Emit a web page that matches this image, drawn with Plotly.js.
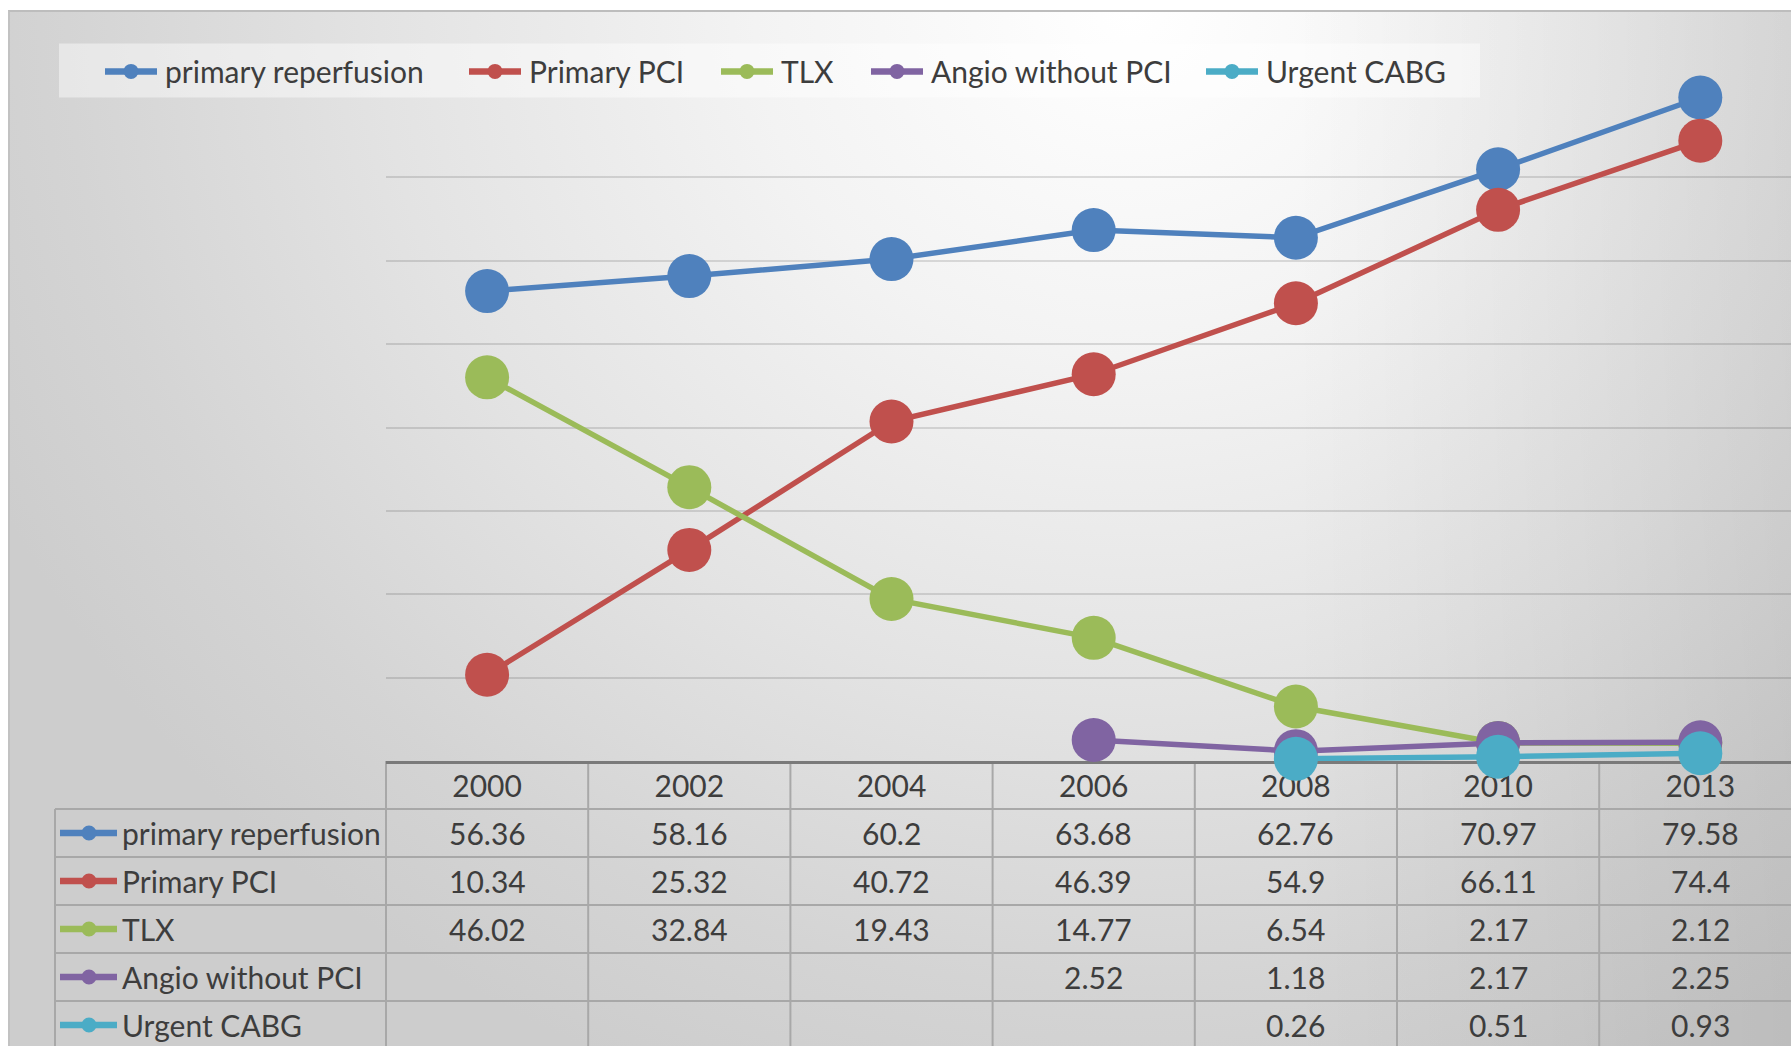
<!DOCTYPE html>
<html>
<head>
<meta charset="utf-8">
<script src="https://cdn.plot.ly/plotly-3.0.1.min.js"></script>
<style>
html, body { margin:0; padding:0; background:#ffffff; overflow:hidden; width:1791px; height:1046px; }
#bg { position:absolute; left:8px; top:10px; right:0; bottom:0;
  border-top:2px solid #bdbdbd; border-left:2px solid #c2c2c2;
  background:
    linear-gradient(to right, rgba(0,0,0,0) 72%, rgba(0,0,0,0.08) 100%),
    radial-gradient(ellipse 1250px 1150px at 1120px 0px, #ffffff 0%, #f3f3f3 30%, #e3e3e3 60%, #d4d4d4 85%, #cdcdcd 100%);
}
#chart { position:absolute; left:0; top:0; width:1791px; height:1046px; }
</style>
</head>
<body>
<div id="bg"></div>
<div id="chart"></div>
<script>
// ---------------- data ----------------
const years = ['2000', '2002', '2004', '2006', '2008', '2010', '2013'];
const seriesNames = ['primary reperfusion', 'Primary PCI', 'TLX', 'Angio without PCI', 'Urgent CABG'];
const primaryReperfusion = [56.36, 58.16, 60.2, 63.68, 62.76, 70.97, 79.58];
const primaryPCI         = [10.34, 25.32, 40.72, 46.39, 54.9, 66.11, 74.4];
const tlx                = [46.02, 32.84, 19.43, 14.77, 6.54, 2.17, 2.12];
const angioWithoutPCI    = [null, null, null, 2.52, 1.18, 2.17, 2.25];
const urgentCABG         = [null, null, null, null, 0.26, 0.51, 0.93];
const gridValues = [10, 20, 30, 40, 50, 60, 70, 80];

// ---------------- style / layout ----------------
const seriesValues = [primaryReperfusion, primaryPCI, tlx, angioWithoutPCI, urgentCABG];
const colors = ['#4f81bd', '#c0504d', '#9bbb59', '#8064a2', '#4bacc6'];
const FONT = 'Lato, "Open Sans", sans-serif';
const TEXT_COLOR = '#3d3d3d';
const FS = 30;

const W = 1791, H = 1046;
const plotLeft = 386, plotTop = 93.6, plotBottom = 760.7;
const colW = 202.2;
const rowH = 48;
const plotW = W - plotLeft, plotH = plotBottom - plotTop;
const px2x = p => (p - plotLeft) / plotW;
const py2y = p => (plotBottom - p) / plotH;
const lineColor = '#a8a8a8';

const traces = seriesNames.map((name, i) => ({
  type: 'scatter',
  mode: 'lines+markers',
  name: name,
  x: years,
  y: seriesValues[i],
  line: { color: colors[i], width: 5.5 },
  marker: { color: colors[i], size: 44 },
  cliponaxis: false,
  hoverinfo: 'skip',
  showlegend: false
}));

const shapes = [];
const annotations = [];

// legend background box
shapes.push({ type: 'rect', xref: 'paper', yref: 'paper', layer: 'below',
  x0: px2x(59), x1: px2x(1480), y0: py2y(97), y1: py2y(43),
  fillcolor: 'rgba(255,255,255,0.45)', line: { width: 0 } });

function symbol(x0, x1, cx, cy, color) {
  shapes.push({ type: 'line', xref: 'paper', yref: 'paper',
    x0: px2x(x0), x1: px2x(x1), y0: py2y(cy), y1: py2y(cy),
    line: { color: color, width: 6.5 } });
  const r = 7.5;
  shapes.push({ type: 'circle', xref: 'paper', yref: 'paper',
    x0: px2x(cx - r), x1: px2x(cx + r), y0: py2y(cy + r), y1: py2y(cy - r),
    fillcolor: color, line: { width: 0 } });
}
function label(text, xPx, yPx, anchor) {
  annotations.push({ xref: 'paper', yref: 'paper', x: px2x(xPx), y: py2y(yPx),
    xanchor: anchor || 'left', yanchor: 'middle', text: text, showarrow: false,
    font: { family: FONT, size: FS, color: TEXT_COLOR } });
}

// legend items
const legendTextX = [163, 527, 779, 929, 1264];
const legendY = 71;
seriesNames.forEach((name, i) => {
  const t = legendTextX[i];
  symbol(t - 58, t - 6, t - 32, legendY, colors[i]);
  label(name, t, legendY);
});

// data table
const tableBottom = 1060;
const tableLeft = 55;
for (let k = 1; k <= seriesNames.length; k++) {
  const yy = plotBottom + k * rowH;
  shapes.push({ type: 'line', xref: 'paper', yref: 'paper', layer: 'below',
    x0: px2x(tableLeft), x1: 1.01, y0: py2y(yy), y1: py2y(yy),
    line: { color: lineColor, width: 2 } });
}
// left border of label column
shapes.push({ type: 'line', xref: 'paper', yref: 'paper', layer: 'below',
  x0: px2x(tableLeft), x1: px2x(tableLeft), y0: py2y(plotBottom + rowH), y1: py2y(tableBottom),
  line: { color: lineColor, width: 2 } });
// border between label column and data
shapes.push({ type: 'line', xref: 'paper', yref: 'paper', layer: 'below',
  x0: 0, x1: 0, y0: py2y(plotBottom), y1: py2y(tableBottom),
  line: { color: lineColor, width: 2 } });
// column separators
for (let j = 1; j < years.length; j++) {
  shapes.push({ type: 'line', xref: 'x', yref: 'paper', layer: 'below',
    x0: j - 0.5, x1: j - 0.5, y0: py2y(plotBottom), y1: py2y(tableBottom),
    line: { color: lineColor, width: 2 } });
}
// rows
seriesNames.forEach((name, s) => {
  const cy = plotBottom + (s + 1) * rowH + rowH / 2;
  symbol(60, 117, 89, cy, colors[s]);
  label(name, 120, cy);
  seriesValues[s].forEach((v, j) => {
    if (v === null) return;
    annotations.push({ xref: 'x', yref: 'paper', x: j, y: py2y(cy),
      xanchor: 'center', yanchor: 'middle', text: String(v), showarrow: false,
      font: { family: FONT, size: FS, color: TEXT_COLOR } });
  });
});

const layout = {
  width: W, height: H, autosize: false,
  margin: { l: plotLeft, r: 0, t: plotTop, b: H - plotBottom, pad: 0 },
  paper_bgcolor: 'rgba(0,0,0,0)',
  plot_bgcolor: 'rgba(0,0,0,0)',
  showlegend: false,
  font: { family: FONT, size: FS, color: TEXT_COLOR },
  xaxis: {
    type: 'category',
    range: [-0.5, -0.5 + plotW / colW],
    showgrid: false, zeroline: false,
    showline: true, linecolor: '#7a7a7a', linewidth: 3,
    ticks: '', ticklabelstandoff: -3,
    tickfont: { family: FONT, size: FS, color: TEXT_COLOR },
    layer: 'below traces',
    fixedrange: true
  },
  yaxis: {
    range: [0, 80],
    tickvals: gridValues,
    showticklabels: false,
    showgrid: true, gridcolor: 'rgba(0,0,0,0.12)', gridwidth: 2,
    zeroline: false, showline: false, ticks: '',
    fixedrange: true
  },
  shapes: shapes,
  annotations: annotations
};

Plotly.newPlot('chart', traces, layout, { staticPlot: true, displayModeBar: false });
</script>
</body>
</html>
